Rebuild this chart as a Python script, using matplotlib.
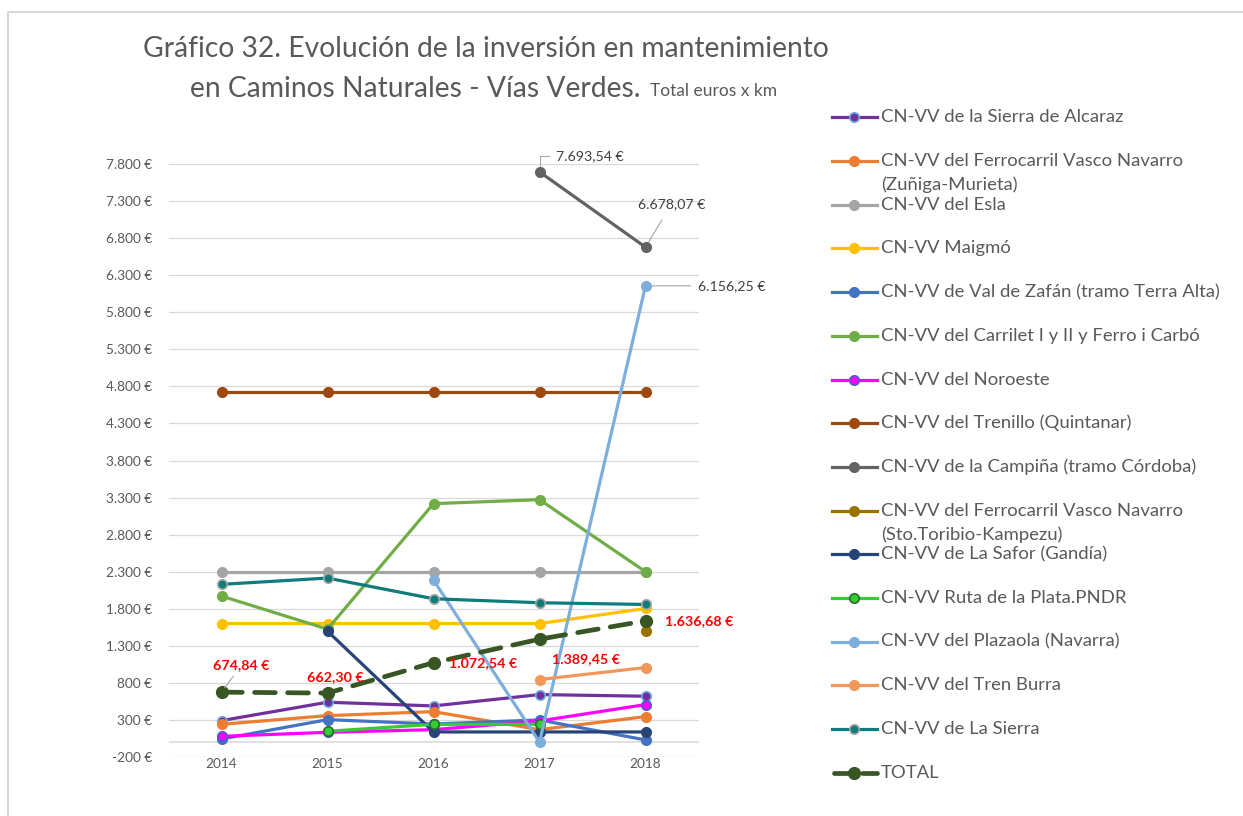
import numpy as np
import matplotlib
matplotlib.use("Agg")
import matplotlib.pyplot as plt
from matplotlib.ticker import FuncFormatter, FixedLocator

plt.rcParams['font.family'] = ['Lato', 'DejaVu Sans']

years = ['2014', '2015', '2016', '2017', '2018']
nan = np.nan

alcaraz = [291, 539, 489, 642, 620]
zuniga = [241, 358, 412, 169, 345]
esla = [2300, 2300, 2300, 2300, 2300]
maigmo = [1600, 1600, 1600, 1600, 1804]
val_zafan = [43, 304, 245, 300, 30]
carrilet = [1971, 1525, 3218, 3272, 2300]
noroeste = [79, 133, 169, 286, 507]
trenillo = [4730, 4730, 4730, 4730, 4730]
campina = [nan, nan, nan, 7693.54, 6678.07]
sto_toribio = [nan, nan, nan, nan, 1494]
safor = [nan, 1498, 138, 138, 138]
ruta_plata = [nan, 147, 241, 241, nan]
plazaola = [nan, nan, 2187, 0, 6156.25]
tren_burra = [nan, nan, nan, 845, 1007]
la_sierra = [2129, 2214, 1935, 1881, 1858]
total = [674.84, 662.30, 1072.54, 1389.45, 1636.68]

names = [
    "CN-VV de la Sierra de Alcaraz",
    "CN-VV del Ferrocarril Vasco Navarro\n(Zuñiga-Murieta)",
    "CN-VV del Esla",
    "CN-VV Maigmó",
    "CN-VV de Val de Zafán (tramo Terra Alta)",
    "CN-VV del Carrilet I y II y Ferro i Carbó",
    "CN-VV del Noroeste",
    "CN-VV del Trenillo (Quintanar)",
    "CN-VV de la Campiña (tramo Córdoba)",
    "CN-VV del Ferrocarril Vasco Navarro\n(Sto.Toribio-Kampezu)",
    "CN-VV de La Safor (Gandía)",
    "CN-VV Ruta de la Plata.PNDR",
    "CN-VV del Plazaola (Navarra)",
    "CN-VV del Tren Burra",
    "CN-VV de La Sierra",
    "TOTAL",
]
series = [alcaraz, zuniga, esla, maigmo, val_zafan, carrilet, noroeste, trenillo,
          campina, sto_toribio, safor, ruta_plata, plazaola, tren_burra, la_sierra, total]

# (line color, marker face, marker edge)
styles = [
    ('#7030A0', '#7030A0', '#6FA8DC'),
    ('#ED7D31', '#ED7D31', '#ED7D31'),
    ('#A5A5A5', '#A5A5A5', '#A5A5A5'),
    ('#FFC000', '#FFC000', '#FFC000'),
    ('#4472C4', '#4472C4', '#4472C4'),
    ('#70AD47', '#70AD47', '#70AD47'),
    ('#FF00FF', '#FF00FF', '#4A5FC1'),
    ('#9E480E', '#9E480E', '#9E480E'),
    ('#636363', '#636363', '#636363'),
    ('#997300', '#997300', '#997300'),
    ('#264478', '#264478', '#264478'),
    ('#33CC33', '#33CC33', '#2E6B2E'),
    ('#7EAEDB', '#7EAEDB', '#7EAEDB'),
    ('#F1975A', '#F1975A', '#F1975A'),
    ('#0E7C7B', '#0E7C7B', '#A5A5A5'),
    ('#375623', '#375623', '#375623'),
]

W, H = 1243, 816
fig = plt.figure(figsize=(W / 100, H / 100), dpi=100)

# overlay in pixel coordinates for frame, title, legend
ov = fig.add_axes([0, 0, 1, 1], zorder=0)
ov.set_xlim(0, W)
ov.set_ylim(H, 0)
ov.axis('off')

left, right, top, bottom = 168.5, 698.5, 164, 757
ax = fig.add_axes([left / W, 1 - bottom / H, (right - left) / W, (bottom - top) / H], zorder=1)
ax.patch.set_alpha(0)

x = np.arange(len(years))
for i, (vals, (lc, fc, ec)) in enumerate(zip(series, styles)):
    if i == len(series) - 1:
        ax.plot(x, vals, color=lc, lw=3.4, dashes=(4.4, 2.6), marker='o', ms=8.5,
                mfc=fc, mec=ec, zorder=5 + i, solid_capstyle='round', dash_capstyle='round')
    else:
        ax.plot(x, vals, color=lc, lw=2.3, marker='o', ms=6.8, mfc=fc, mec=ec, mew=1.2,
                zorder=5 + i)

ax.set_xlim(-0.5, 4.5)
ax.set_ylim(-200, 7800)
ax.yaxis.set_major_locator(FixedLocator(np.arange(-200, 7801, 500)))


def eur(v, pos=None):
    s = f"{abs(int(round(v))):,}".replace(',', '.')
    return ("-" if v < 0 else "") + s + " €"


ax.yaxis.set_major_formatter(FuncFormatter(eur))
ax.set_xticks(x)
ax.set_xticklabels(years)
ax.grid(axis='y', color='#D9D9D9', lw=0.9)
ax.axhline(0, color='#D9D9D9', lw=1.1, zorder=1)
ax.set_axisbelow(True)
for sp in ax.spines.values():
    sp.set_visible(False)
ax.tick_params(axis='y', length=0, pad=12, labelsize=9.8, labelcolor='#595959')
ax.tick_params(axis='x', length=0, pad=1, labelsize=9.8, labelcolor='#595959')


def fmt2(v):
    s = f"{v:,.2f}"
    s = s.replace(',', 'X').replace('.', ',').replace('X', '.')
    return s + " €"


# TOTAL labels
red_off = [(20, 27), (8, 16), (50, 0), (46, -20), (54, 0)]
for xi, v, off in zip(x, total, red_off):
    ann = dict(xy=(xi, v), xytext=off, textcoords='offset pixels', ha='center', va='center',
               color='#FF0000', fontsize=10.3, fontweight='bold', zorder=30)
    if xi == 0:
        ann['arrowprops'] = dict(arrowstyle='-', color='#A6A6A6', lw=0.8, shrinkA=2, shrinkB=4)
    ax.annotate(fmt2(v), **ann)

# Campiña / Plazaola labels
ax.annotate(fmt2(campina[3]), xy=(3, campina[3]), xytext=(50, 16), textcoords='offset pixels',
            ha='center', va='center', color='#404040', fontsize=10.2, zorder=30,
            arrowprops=dict(arrowstyle='-', color='#A6A6A6', lw=0.8, shrinkA=3, shrinkB=4,
                            connectionstyle='angle,angleA=0,angleB=90,rad=0'))
ax.annotate(fmt2(campina[4]), xy=(4, campina[4]), xytext=(26, 43), textcoords='offset pixels',
            ha='center', va='center', color='#404040', fontsize=10.2, zorder=30,
            arrowprops=dict(arrowstyle='-', color='#A6A6A6', lw=0.8, shrinkA=6, shrinkB=4))
ax.annotate(fmt2(plazaola[4]), xy=(4, plazaola[4]), xytext=(86, 0), textcoords='offset pixels',
            ha='center', va='center', color='#404040', fontsize=10.2, zorder=30,
            arrowprops=dict(arrowstyle='-', color='#A6A6A6', lw=0.8, shrinkA=3, shrinkB=5))

# frame
ov.plot([8, 8, W], [H, 12, 12], color='#D9D9D9', lw=1.5)

# title
ov.text(486, 57, "Gráfico 32. Evolución de la inversión en mantenimiento", ha='center',
        va='baseline', fontsize=20.3, color='#595959')
ov.text(190, 97, "en Caminos Naturales - Vías Verdes.", ha='left', va='baseline',
        fontsize=20.3, color='#595959')
ov.text(650, 96, "Total euros x km", ha='left', va='baseline', fontsize=12.5, color='#595959')

# legend
for k, (nm, (lc, fc, ec)) in enumerate(zip(names, styles)):
    yy = 117.3 + 43.7 * k
    if k == len(names) - 1:
        ov.plot([834, 877], [yy, yy], color=lc, lw=3.4, dashes=(4.2, 1.8),
                solid_capstyle='round', dash_capstyle='round')
        ov.plot([854], [yy], marker='o', ms=8.5, color=lc)
    else:
        ov.plot([832, 877], [yy, yy], color=lc, lw=2.3)
        ov.plot([854], [yy], marker='o', ms=6.8, mfc=fc, mec=ec, mew=1.2, color=lc)
    lines = nm.split('\n')
    for j, ln in enumerate(lines):
        ov.text(881, yy + 24 * j, ln, ha='left', va='center', fontsize=13.3, color='#595959')

fig.savefig('out.png', dpi=100)
